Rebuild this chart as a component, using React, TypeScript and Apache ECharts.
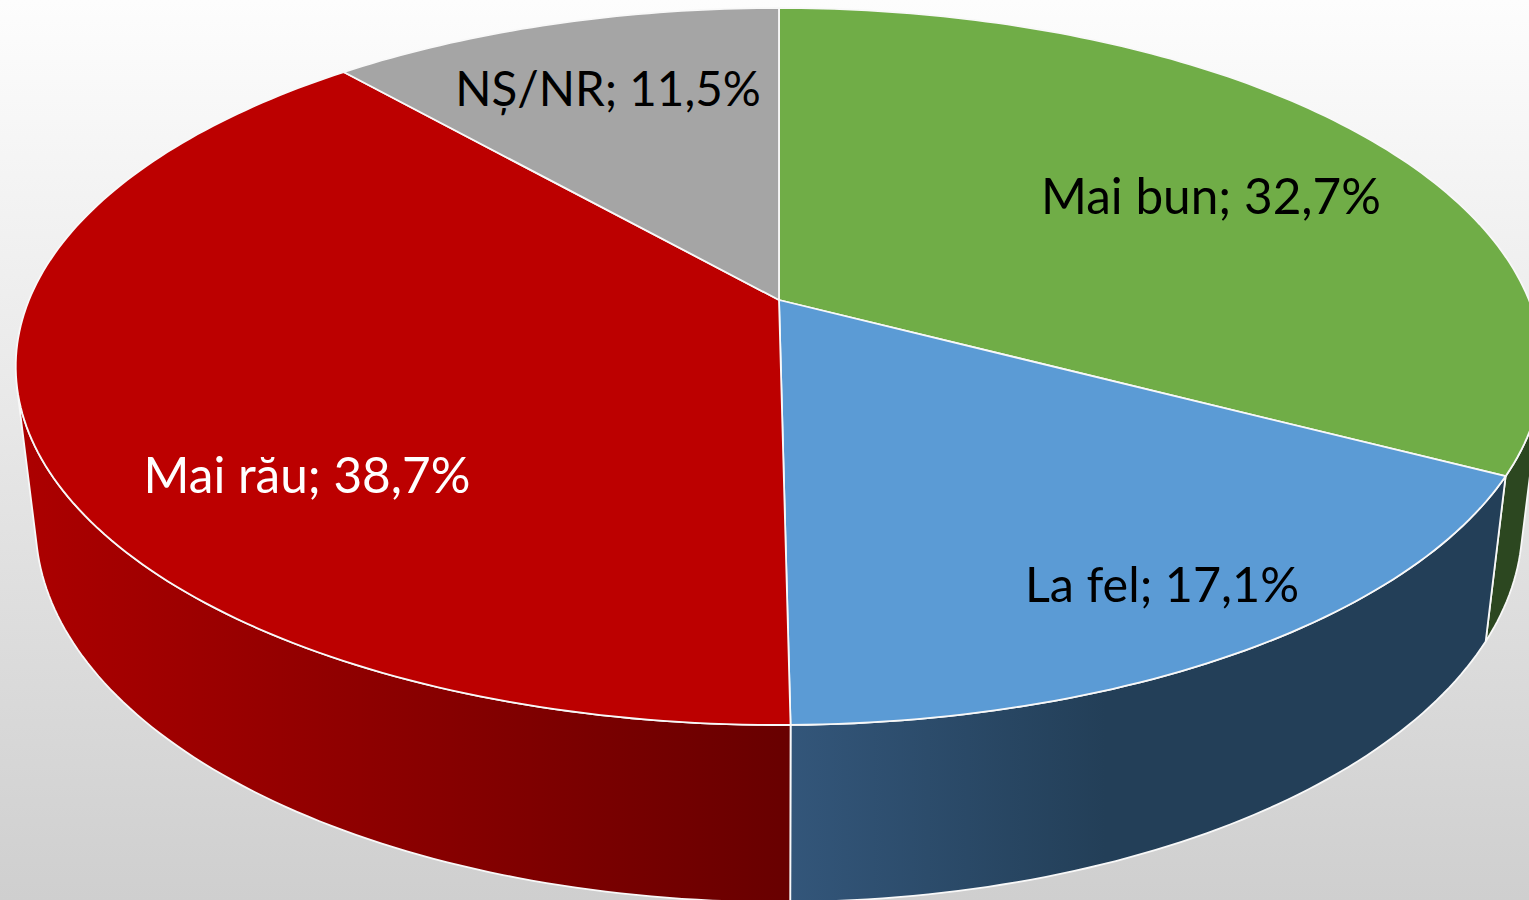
import React, { useEffect, useRef } from "react";
import * as echarts from "echarts";

const categories = ["Mai bun", "La fel", "Mai rău", "NȘ/NR"];
const shares = [32.7, 17.1, 38.7, 11.5];

const topColors = ["#70AD47", "#5B9BD5", "#BC0000", "#A5A5A5"];
const sideStops = [
  [[0, "#2C4720"], [1, "#2C4720"]],
  [[0, "#33567A"], [0.45, "#233F58"], [1, "#233F58"]],
  [[0, "#AC0000"], [1, "#680000"]],
  [[0, "#555555"], [1, "#555555"]],
];
const sideRanges = [[1480, 1530], [790, 1490], [20, 790], [344, 779]];
const labelColors = ["#000000", "#000000", "#FFFFFF", "#000000"];
const labelCenters = [[1211, 195], [1162, 583], [307, 474], [608, 87]];
const labelSizes = [49.5, 48.5, 49.5, 47.5];

// Perspective of the disc (unit circle to screen)
const CX = 779;
const CY = 300;
const A = 290.5;
const P = -0.1855;
const D = 750;
const DROP = 0.02576;
const VANISH_Y = 6500;

const project = (deg: number, lower: boolean) => {
  const t = (deg * Math.PI) / 180;
  const u = Math.sin(t);
  const v = -Math.cos(t);
  const w = 1 + P * v;
  const x = CX + (D * u) / w;
  const y = (A * v + CY) / w;
  if (!lower) return [x, y];
  return [(x * w + DROP * CX) / (w + DROP), (y * w + DROP * VANISH_Y) / (w + DROP)];
};

const total = shares.reduce((s, v) => s + v, 0);
const sliceAngles = (i: number) => {
  const before = shares.slice(0, i).reduce((s, v) => s + v, 0);
  return [(before / total) * 360, ((before + shares[i]) / total) * 360];
};

const arcPoints = (a0: number, a1: number, lower: boolean) => {
  const n = Math.max(2, Math.ceil((a1 - a0) / 1));
  const pts: number[][] = [];
  for (let k = 0; k <= n; k++) pts.push(project(a0 + ((a1 - a0) * k) / n, lower));
  return pts;
};

// A wall quad faces the viewer when it winds the same way as the front of the disc.
const faceSign = (deg: number) => {
  const d = 0.2;
  const q = [project(deg, false), project(deg + d, false), project(deg + d, true), project(deg, true)];
  let area = 0;
  for (let k = 0; k < 4; k++) {
    const [x0, y0] = q[k];
    const [x1, y1] = q[(k + 1) % 4];
    area += x0 * y1 - x1 * y0;
  }
  return area;
};
const frontSign = Math.sign(faceSign(180));

const visibleRange = (a0: number, a1: number) => {
  let start = -1;
  let end = -1;
  for (let a = a0; a <= a1; a += 0.1) {
    if (Math.sign(faceSign(a)) === frontSign) {
      if (start < 0) start = a;
      end = a;
    }
  }
  if (start < 0) return null;
  return [start, Math.min(end + 0.1, a1)];
};

const labelText = (i: number) => `${categories[i]}; ${shares[i].toFixed(1).replace(".", ",")}%`;

export default function App() {
  const ref = useRef<HTMLDivElement>(null);
  useEffect(() => {
    document.body.style.margin = "0";
    document.body.style.overflow = "hidden";
    const chart = echarts.init(ref.current!, null, { renderer: "svg" });
    const seriesData = shares.map((v, i) => ({ name: categories[i], value: v }));
    chart.setOption({
      animation: false,
      backgroundColor: new echarts.graphic.LinearGradient(0, 0, 0, 1, [
        { offset: 0, color: "#FDFDFD" },
        { offset: 1, color: "#CFCFCF" },
      ]),
      series: [
        {
          type: "custom",
          coordinateSystem: "none",
          silent: true,
          clip: false,
          z: 1,
          data: seriesData,
          renderItem: (params: any) => {
            const i = params.dataIndex;
            const [a0, a1] = sliceAngles(i);
            const range = visibleRange(a0, a1);
            if (!range) return { type: "group", children: [] };
            const points = [
              ...arcPoints(range[0], range[1], false),
              ...arcPoints(range[0], range[1], true).reverse(),
            ];
            const [x0, x1] = sideRanges[i];
            const fill = new echarts.graphic.LinearGradient(
              x0, 0, x1, 0,
              sideStops[i].map(([offset, color]) => ({ offset, color })) as any,
              true,
            );
            return {
              type: "polygon",
              shape: { points },
              style: { fill, stroke: "#F8F8F8", lineWidth: 1.8, lineJoin: "round" },
            };
          },
        },
        {
          type: "custom",
          coordinateSystem: "none",
          silent: true,
          clip: false,
          z: 2,
          data: seriesData,
          renderItem: (params: any) => {
            const i = params.dataIndex;
            const [a0, a1] = sliceAngles(i);
            return {
              type: "polygon",
              shape: { points: [[CX, CY], ...arcPoints(a0, a1, false)] },
              style: { fill: topColors[i], stroke: "#F8F8F8", lineWidth: 1.8, lineJoin: "round" },
            };
          },
        },
        {
          type: "custom",
          coordinateSystem: "none",
          silent: true,
          clip: false,
          z: 3,
          data: seriesData,
          renderItem: (params: any) => {
            const i = params.dataIndex;
            return {
              type: "text",
              x: labelCenters[i][0],
              y: labelCenters[i][1],
              style: {
                text: labelText(i),
                fill: labelColors[i],
                font: `${labelSizes[i]}px Lato, "Noto Sans", sans-serif`,
                align: "center",
                verticalAlign: "middle",
              },
            };
          },
        },
      ],
    });
    return () => chart.dispose();
  }, []);
  return <div ref={ref} style={{ width: 1529, height: 900 }} />;
}
